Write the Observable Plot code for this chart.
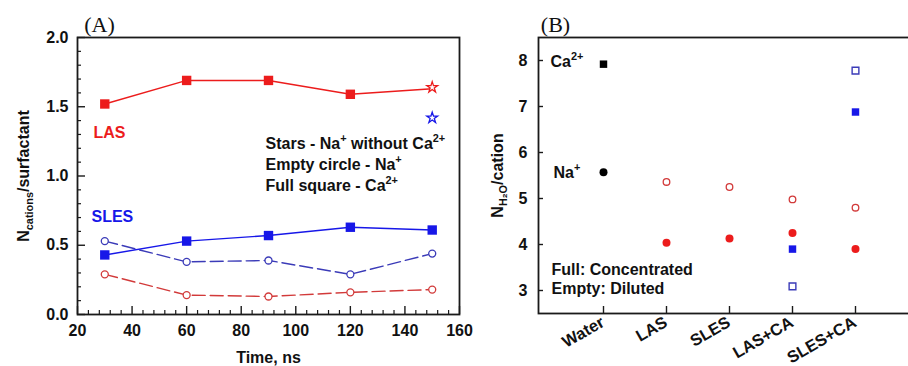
<!DOCTYPE html>
<html><head><meta charset="utf-8">
<script src="https://cdn.jsdelivr.net/npm/d3@7"></script>
<script src="https://cdn.jsdelivr.net/npm/@observablehq/plot@0.6"></script>
<style>
html,body{margin:0;padding:0;background:#fff;overflow:hidden}
#wrap{position:relative;width:908px;height:366px;overflow:hidden;background:#fff}
#pa{position:absolute;left:0;top:0}
#pb{position:absolute;left:470px;top:0}
</style></head><body>
<div id="wrap"><div id="pa"></div><div id="pb"></div></div>
<script>
// ---- Panel A data ----
const timeNs = [30, 60, 90, 120, 150];
const lasCa = [1.52, 1.69, 1.69, 1.59, 1.63];
const slesCa = [0.43, 0.53, 0.57, 0.63, 0.61];
const lasNa = [0.29, 0.14, 0.13, 0.16, 0.18];
const slesNa = [0.53, 0.38, 0.39, 0.29, 0.44];
const starTime = [150];
const lasNaNoCa = [1.64];
const slesNaNoCa = [1.42];
const xTicksA = [20, 40, 60, 80, 100, 120, 140, 160];
const yTicksA = [0, 0.5, 1.0, 1.5, 2.0];
const legendLines = ["Stars - Na^{+} without Ca^{2+}", "Empty circle - Na^{+}", "Full square - Ca^{2+}"];

// ---- Panel B data ----
const categories = ["Water", "LAS", "SLES", "LAS+CA", "SLES+CA"];
const waterCa = [7.92];
const waterNa = [5.57];
const surfCats = ["LAS", "SLES", "LAS+CA", "SLES+CA"];
const naConc = [4.04, 4.13, 4.25, 3.90];
const naDil = [5.36, 5.25, 4.98, 4.80];
const caCats = ["LAS+CA", "SLES+CA"];
const caConc = [3.90, 6.88];
const caDil = [3.09, 7.78];
const yTicksB = [3, 4, 5, 6, 7, 8];

const RED = "#ec1c1c", BLUE = "#1717e8", DRED = "#d23a3a", DBLUE = "#3b3bb8", INK = "#1a1a1a";
const svgStyle = "font-family:'Liberation Sans',Arial,sans-serif;font-size:16px;font-weight:bold;color:#111;background:transparent;overflow:visible;max-width:none;";
const SERIF = "'Liberation Serif','Times New Roman',serif";

const zipT = (vals) => timeNs.map((t, i) => ({t, v: vals[i]}));
const xMinorA = d3.range(20, 160.001, 4).filter(d => !xTicksA.includes(d));
const yMinorA = d3.range(0, 2.0001, 0.1).map(d => +d.toFixed(2)).filter(d => !yTicksA.some(m => Math.abs(m - d) < 1e-9));

const note = (s, dx, dy, extra = {}) => Plot.text([s], {frameAnchor: "top-left", lineAnchor: "middle", textAnchor: "start", dx, dy, fill: "#111", fontSize: 16, ...extra});

const plotA = Plot.plot({
  width: 470, height: 366,
  marginLeft: 77, marginRight: 11, marginTop: 37, marginBottom: 52,
  style: svgStyle,
  x: {domain: [20, 160], axis: null, label: null},
  y: {domain: [0, 2], axis: null, label: null},
  marks: [
    Plot.frame({stroke: INK, strokeWidth: 1.8}),
    Plot.axisX({ticks: xTicksA, tickSize: -8, tickPadding: 18, tickFormat: d => String(d), stroke: INK, strokeWidth: 1.4, label: null}),
    Plot.axisX({ticks: xMinorA, tickSize: -4, fill: "none", stroke: INK, strokeWidth: 1.2, label: null}),
    Plot.axisY({ticks: yTicksA, tickSize: -8, tickPadding: 17, tickFormat: d3.format(".1f"), stroke: INK, strokeWidth: 1.4, label: null}),
    Plot.axisY({ticks: yMinorA, tickSize: -4, fill: "none", stroke: INK, strokeWidth: 1.2, label: null}),
    // lines
    Plot.line(zipT(lasNa), {x: "t", y: "v", stroke: DRED, strokeWidth: 1.4, strokeDasharray: "13,5"}),
    Plot.line(zipT(slesNa), {x: "t", y: "v", stroke: DBLUE, strokeWidth: 1.4, strokeDasharray: "13,5"}),
    Plot.line(zipT(lasCa), {x: "t", y: "v", stroke: RED, strokeWidth: 1.4}),
    Plot.line(zipT(slesCa), {x: "t", y: "v", stroke: BLUE, strokeWidth: 1.4}),
    // markers
    Plot.dot(zipT(lasNa), {x: "t", y: "v", r: 3.5, fill: "white", stroke: DRED, strokeWidth: 1.3}),
    Plot.dot(zipT(slesNa), {x: "t", y: "v", r: 3.5, fill: "white", stroke: DBLUE, strokeWidth: 1.3}),
    Plot.dot(zipT(lasCa).filter(d => !starTime.includes(d.t)), {x: "t", y: "v", symbol: "square", r: 5.3, fill: RED}),
    Plot.dot(zipT(slesCa), {x: "t", y: "v", symbol: "square", r: 5.3, fill: BLUE}),
    Plot.dot(starTime.map((t, i) => ({t, v: lasNaNoCa[i]})), {x: "t", y: "v", symbol: "star", r: 3.4, fill: "white", stroke: RED, strokeWidth: 1.3}),
    Plot.dot(starTime.map((t, i) => ({t, v: slesNaNoCa[i]})), {x: "t", y: "v", symbol: "star", r: 3.4, fill: "white", stroke: BLUE, strokeWidth: 1.3}),
    // texts
    note("(A)", 22, -13, {fontFamily: SERIF, fontWeight: "normal", fontSize: 22, textAnchor: "middle"}),
    note("LAS", 16, 95, {fill: RED}),
    note("SLES", 14, 179, {fill: BLUE}),
    ...legendLines.map((s, i) => note(s, 188, 106 + 21 * i)),
    Plot.text(["N_{cations}/surfactant"], {frameAnchor: "left", lineAnchor: "middle", dx: -54, rotate: -90, textAnchor: "middle", fill: "#111", fontSize: 16}),
    Plot.text(["Time, ns"], {frameAnchor: "bottom", lineAnchor: "middle", dy: 43, textAnchor: "middle", fill: "#111", fontSize: 16})
  ]
});

const plotB = Plot.plot({
  width: 450, height: 366,
  marginLeft: 68, marginRight: 0, marginTop: 37, marginBottom: 53,
  style: svgStyle,
  x: {type: "point", domain: categories, padding: 1, axis: null, label: null},
  y: {domain: [2.5, 8.5], axis: null, label: null},
  marks: [
    Plot.frame({stroke: INK, strokeWidth: 1.8}),
    Plot.axisX({tickSize: -7, fill: "none", stroke: INK, strokeWidth: 1.4, label: null}),
    Plot.axisY({ticks: yTicksB, tickSize: -5, tickPadding: 16, tickFormat: d => String(d), stroke: INK, strokeWidth: 1.4, label: null}),
    Plot.text(categories, {x: d => d, frameAnchor: "bottom", lineAnchor: "bottom", dx: 2, dy: 12, rotate: -30, textAnchor: "end", fill: "#111", fontSize: 16.5}),
    // markers
    Plot.dot(waterCa, {x: () => "Water", y: d => d, symbol: "square", r: 4.2, fill: "#000"}),
    Plot.dot(waterNa, {x: () => "Water", y: d => d, r: 4, fill: "#000"}),
    Plot.dot(surfCats.map((c, i) => ({c, v: naDil[i]})), {x: "c", y: "v", r: 3.3, fill: "white", stroke: DRED, strokeWidth: 1.3}),
    Plot.dot(surfCats.map((c, i) => ({c, v: naConc[i]})), {x: "c", y: "v", r: 4, fill: RED}),
    Plot.dot(caCats.map((c, i) => ({c, v: caConc[i]})), {x: "c", y: "v", symbol: "square", r: 4.2, fill: BLUE}),
    Plot.dot(caCats.map((c, i) => ({c, v: caDil[i]})), {x: "c", y: "v", symbol: "square", r: 3.8, fill: "white", stroke: DBLUE, strokeWidth: 1.4}),
    // texts
    note("(B)", 17, -13, {fontFamily: SERIF, fontWeight: "normal", fontSize: 22, textAnchor: "middle"}),
    note("Ca^{2+}", 12, 24),
    note("Na^{+}", 15, 135),
    note("Full: Concentrated", 13, 232),
    note("Empty: Diluted", 13, 251),
    Plot.text(["N_{H₂O}/cation"], {frameAnchor: "left", lineAnchor: "middle", dx: -41, rotate: -90, textAnchor: "middle", fill: "#111", fontSize: 16})
  ]
});

document.getElementById("pa").appendChild(plotA);
document.getElementById("pb").appendChild(plotB);

// Convert ^{..} / _{..} markup into real superscript/subscript tspans
function richify(root) {
  root.querySelectorAll("text").forEach(el => {
    const t = el.textContent;
    if (!/[\^_]\{/.test(t)) return;
    const base = parseFloat(getComputedStyle(el).fontSize) || 16;
    const re = /([\^_])\{([^}]*)\}/g;
    const parts = [];
    let last = 0, m;
    while ((m = re.exec(t))) {
      if (m.index > last) parts.push({s: t.slice(last, m.index), k: 0});
      parts.push({s: m[2], k: m[1] === "^" ? 1 : -1});
      last = re.lastIndex;
    }
    if (last < t.length) parts.push({s: t.slice(last), k: 0});
    while (el.firstChild) el.removeChild(el.firstChild);
    let cur = 0;
    for (const p of parts) {
      const target = p.k === 1 ? -0.42 * base : p.k === -1 ? 0.3 * base : 0;
      const ts = document.createElementNS("http://www.w3.org/2000/svg", "tspan");
      ts.textContent = p.s;
      if (target !== cur) ts.setAttribute("dy", (target - cur).toFixed(2));
      if (p.k !== 0) ts.setAttribute("font-size", (0.68 * base).toFixed(1));
      cur = target;
      el.appendChild(ts);
    }
  });
}
richify(plotA);
richify(plotB);
</script>
</body></html>
